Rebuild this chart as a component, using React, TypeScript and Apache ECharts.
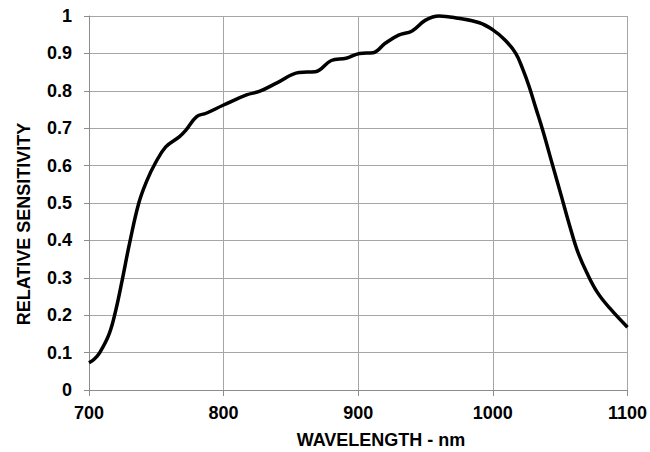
import React, { useEffect, useRef } from "react";
import * as echarts from "echarts";

const wavelengths = [
  700, 704, 708, 715, 720, 725, 730, 737, 743, 749, 757, 767, 772, 780, 787,
  800, 817, 827, 840, 856, 868, 880, 891, 901, 911, 920, 930, 940, 950, 960,
  974, 990, 1000, 1009, 1017, 1022, 1027, 1032, 1037, 1044, 1051, 1057, 1063,
  1070, 1078, 1088, 1100,
];
const sensitivity = [
  0.073, 0.083, 0.1, 0.15, 0.215, 0.3, 0.39, 0.5, 0.56, 0.605, 0.65, 0.677,
  0.695, 0.731, 0.74, 0.762, 0.789, 0.799, 0.822, 0.849, 0.851, 0.881, 0.887,
  0.9, 0.902, 0.927, 0.949, 0.96, 0.989, 1.0, 0.994, 0.982, 0.963, 0.936, 0.9,
  0.86, 0.811, 0.753, 0.695, 0.606, 0.517, 0.44, 0.37, 0.312, 0.259, 0.214,
  0.168,
];
const xTickLabels = ["700", "800", "900", "1000", "1100"];
const yTickLabels = ["0", "0.1", "0.2", "0.3", "0.4", "0.5", "0.6", "0.7", "0.8", "0.9", "1"];

const FONT = "'Liberation Sans', Arial, sans-serif";

export default function App() {
  const ref = useRef<HTMLDivElement>(null);
  useEffect(() => {
    if (!ref.current) return;
    const chart = echarts.init(ref.current, null, { renderer: "svg" });
    const data = wavelengths.map((w, i) => [w, sensitivity[i]]);
    chart.setOption({
      animation: false,
      backgroundColor: "#ffffff",
      grid: { left: 89, right: 21, top: 16, bottom: 62, containLabel: false },
      xAxis: {
        type: "value",
        min: 700,
        max: 1100,
        interval: 100,
        axisLine: { show: true, lineStyle: { color: "#8c8c8c", width: 1 } },
        axisTick: { show: true, length: 6, lineStyle: { color: "#8c8c8c" } },
        axisLabel: {
          margin: 14,
          color: "#000",
          fontFamily: FONT,
          fontWeight: "bold",
          fontSize: 18,
          formatter: (v: number) => xTickLabels[Math.round((v - 700) / 100)] ?? "",
        },
        splitLine: { show: true, lineStyle: { color: "#a6a6a6", width: 1 } },
      },
      yAxis: {
        type: "value",
        min: 0,
        max: 1,
        interval: 0.1,
        axisLine: { show: true, lineStyle: { color: "#8c8c8c", width: 1 } },
        axisTick: { show: true, length: 5, lineStyle: { color: "#8c8c8c" } },
        axisLabel: {
          margin: 17,
          color: "#000",
          fontFamily: FONT,
          fontWeight: "bold",
          fontSize: 18,
          formatter: (v: number) => yTickLabels[Math.round(v * 10)] ?? "",
        },
        splitLine: { show: true, lineStyle: { color: "#a6a6a6", width: 1 } },
      },
      graphic: [
        {
          type: "text",
          x: 381,
          y: 440,
          style: {
            text: "WAVELENGTH - nm",
            font: `bold 18px ${FONT}`,
            fill: "#000",
            align: "center",
            verticalAlign: "middle",
          },
        },
        {
          type: "text",
          x: 24,
          y: 224,
          rotation: Math.PI / 2,
          style: {
            text: "RELATIVE SENSITIVITY",
            font: `bold 18px ${FONT}`,
            fill: "#000",
            align: "center",
            verticalAlign: "middle",
          },
        },
      ],
      series: [
        {
          type: "line",
          data,
          smooth: 0.4,
          symbol: "none",
          lineStyle: { color: "#000", width: 3.5 },
          clip: false,
        },
      ],
    });
    return () => chart.dispose();
  }, []);
  return <div ref={ref} style={{ width: 650, height: 452, position: "absolute", left: 0, top: 0 }} />;
}
